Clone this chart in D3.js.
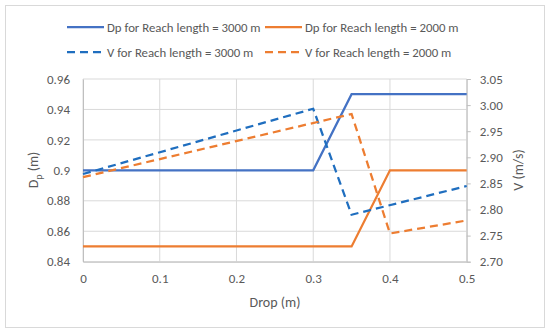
<!DOCTYPE html>
<html><head><meta charset="utf-8">
<script src="https://cdn.jsdelivr.net/npm/d3@7"></script>
<style>body{margin:0;background:#fff;} svg{display:block;font-family:Carlito,Calibri,"Open Sans",sans-serif;}</style>
</head><body><svg id="c" width="550" height="334"></svg>
<script>
const xTicks = [0, 0.1, 0.2, 0.3, 0.4, 0.5];
const dpTicks = [0.84, 0.86, 0.88, 0.9, 0.92, 0.94, 0.96];
const vTicks = [2.70, 2.75, 2.80, 2.85, 2.90, 2.95, 3.00, 3.05];
const dpX3000 = [0, 0.3, 0.35, 0.5];
const dp3000 = [0.9, 0.9, 0.95, 0.95];
const dpX2000 = [0, 0.35, 0.4, 0.5];
const dp2000 = [0.85, 0.85, 0.9, 0.9];
const vX3000 = [0, 0.3, 0.35, 0.5];
const v3000 = [2.868, 2.993, 2.790, 2.845];
const vX2000 = [0, 0.35, 0.4, 0.5];
const v2000 = [2.862, 2.983, 2.754, 2.779];
const legendLabels = ["Dp for Reach length = 3000 m", "Dp for Reach length = 2000 m", "V for Reach length = 3000 m", "V for Reach length = 2000 m"];

const svg = d3.select("#c");
const L = 83, R = 466.7, T = 79, B = 261.7;
const x = d3.scaleLinear().domain([0, 0.5]).range([L, R]);
const yL = d3.scaleLinear().domain([0.84, 0.96]).range([B, T]);
const yR = d3.scaleLinear().domain([2.70, 3.05]).range([B, T]);
const txt = "#595959", grid = "#d9d9d9";
const blue = "#4472C4", orange = "#ED7D31", dblue = "#1F6EBF";

svg.append("rect").attr("x", 5.5).attr("y", 5.5).attr("width", 539).attr("height", 322).attr("fill", "#fff").attr("stroke", "#d9d9d9");

// gridlines
svg.append("g").selectAll("line").data(dpTicks).join("line")
  .attr("x1", L).attr("x2", R).attr("y1", d => yL(d)).attr("y2", d => yL(d)).attr("stroke", grid);
svg.append("g").selectAll("line").data(xTicks).join("line")
  .attr("x1", d => x(d)).attr("x2", d => x(d)).attr("y1", T).attr("y2", B).attr("stroke", grid);

// axes
const ax = svg.append("g").attr("transform", `translate(0,${B})`).call(d3.axisBottom(x).tickValues(xTicks).tickSize(0).tickPadding(12).tickFormat(d3.format("")));
const ayl = svg.append("g").attr("transform", `translate(${L},0)`).call(d3.axisLeft(yL).tickValues(dpTicks).tickSize(0).tickPadding(13).tickFormat(d => d3.format("")(+d.toFixed(2))));
const ayr = svg.append("g").attr("transform", `translate(${R},0)`).call(d3.axisRight(yR).tickValues(vTicks).tickSize(4).tickPadding(9).tickFormat(d3.format(".2f")));
[ax, ayl, ayr].forEach(g => {
  g.select(".domain").attr("stroke", "#bfbfbf");
  g.selectAll(".tick line").attr("stroke", "#bfbfbf");
  g.selectAll("text").attr("fill", txt).style("font-size", "13px").style("font-family", "Carlito,Calibri,'Open Sans',sans-serif");
});

// series
function draw(xs, ys, yScale, color, dash) {
  const data = xs.map((d, i) => [d, ys[i]]);
  svg.append("path").datum(data)
    .attr("d", d3.line().x(d => x(d[0])).y(d => yScale(d[1])))
    .attr("fill", "none").attr("stroke", color).attr("stroke-width", 2.25)
    .attr("stroke-dasharray", dash ? "8,5" : null);
}
draw(dpX3000, dp3000, yL, blue, false);
draw(dpX2000, dp2000, yL, orange, false);
draw(vX3000, v3000, yR, dblue, true);
draw(vX2000, v2000, yR, orange, true);

// axis titles
const yt = svg.append("text").attr("transform", "translate(38,170) rotate(-90)").attr("text-anchor", "middle")
  .attr("fill", txt).style("font-size", "14px");
yt.append("tspan").text("D");
yt.append("tspan").text("p").attr("dy", 4).style("font-size", "10px");
yt.append("tspan").text(" (m)").attr("dy", -4);
svg.append("text").attr("transform", "translate(518,170) rotate(-90)").attr("text-anchor", "middle").attr("dominant-baseline", "central")
  .attr("fill", txt).style("font-size", "14px").text("V (m/s)");
svg.append("text").attr("x", 275).attr("y", 302).attr("text-anchor", "middle").attr("dominant-baseline", "central")
  .attr("fill", txt).style("font-size", "14px").text("Drop (m)");

// legend
const leg = [
  {x: 67, y: 27, c: blue, dash: false},
  {x: 265, y: 27, c: orange, dash: false},
  {x: 67, y: 52, c: dblue, dash: true},
  {x: 265, y: 52, c: orange, dash: true}
];
leg.forEach((l, i) => {
  svg.append("line").attr("x1", l.x).attr("x2", l.x + 37).attr("y1", l.y).attr("y2", l.y)
    .attr("stroke", l.c).attr("stroke-width", 2.25).attr("stroke-dasharray", l.dash ? "8,5" : null);
  svg.append("text").attr("x", l.x + 40).attr("y", l.y).attr("dominant-baseline", "central")
    .attr("fill", txt).style("font-size", "12.8px").text(legendLabels[i]);
});
</script></body></html>
